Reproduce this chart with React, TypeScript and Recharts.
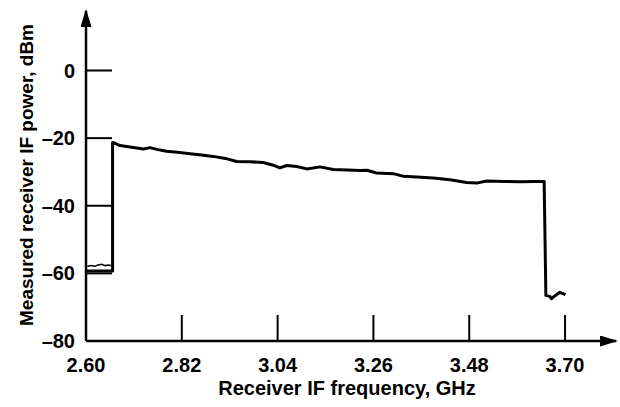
import { FC } from 'react';
import { LineChart, Line, XAxis, YAxis } from 'recharts';

// axis ticks
const freqTicks = [2.6, 2.82, 3.04, 3.26, 3.48, 3.7];
const powerTicks = [-80, -60, -40, -20, 0];

// main trace, GHz / dBm
const traceFreq = [
  2.6, 2.661, 2.661, 2.668, 2.678, 2.701, 2.732, 2.747, 2.765, 2.785, 2.81, 2.839,
  2.865, 2.892, 2.92, 2.946, 2.975, 3.007, 3.03, 3.045, 3.061, 3.084, 3.107, 3.137,
  3.168, 3.2, 3.229, 3.245, 3.267, 3.306, 3.329, 3.36, 3.397, 3.436, 3.474, 3.497,
  3.52, 3.56, 3.597, 3.63, 3.652, 3.656, 3.665, 3.669, 3.677, 3.688, 3.701,
];
const tracePower = [
  -59.3, -59.3, -21.3, -21.6, -22.2, -22.6, -23.2, -22.8, -23.4, -23.9, -24.2, -24.6,
  -25.0, -25.4, -26.0, -26.9, -27.0, -27.2, -28.0, -28.8, -28.1, -28.4, -29.1, -28.5,
  -29.3, -29.4, -29.6, -29.5, -30.3, -30.5, -31.3, -31.5, -31.8, -32.3, -33.1, -33.3,
  -32.7, -32.8, -32.9, -32.8, -32.8, -66.5, -66.8, -67.5, -66.6, -65.6, -66.3,
];

// thin noisy floor below the band edge
const floorFreq = [2.603, 2.612, 2.62, 2.628, 2.636, 2.644, 2.652, 2.66];
const floorPower = [-57.9, -57.7, -57.9, -57.5, -57.3, -57.7, -57.5, -57.8];

const trace = traceFreq.map((f, i) => ({ f, p: tracePower[i] }));
const floor = floorFreq.map((f, i) => ({ f, p: floorPower[i] }));

const FONT = '"Liberation Sans", Arial, sans-serif';
const TICK_LEN = 26;

const FreqTick = (props: any) => {
  const { x, y, payload } = props;
  return (
    <g>
      {payload.value !== freqTicks[0] && (
        <line x1={x} y1={y} x2={x} y2={y - TICK_LEN} stroke="#000" strokeWidth={2} />
      )}
      <text
        x={x}
        y={y + 31}
        textAnchor="middle"
        fontFamily={FONT}
        fontWeight="bold"
        fontSize={20}
        fill="#000"
      >
        {payload.value.toFixed(2)}
      </text>
    </g>
  );
};

const PowerTick = (props: any) => {
  const { x, y, payload } = props;
  const v = payload.value;
  return (
    <g>
      {v !== powerTicks[0] && (
        <line x1={x} y1={y} x2={x + TICK_LEN} y2={y} stroke="#000" strokeWidth={2} />
      )}
      <text
        x={x - 11}
        y={y + 7}
        textAnchor="end"
        fontFamily={FONT}
        fontWeight="bold"
        fontSize={20}
        fill="#000"
      >
        {v === 0 ? '0' : '\u2013' + Math.abs(v)}
      </text>
    </g>
  );
};

const App: FC = () => {
  return (
    <div style={{ position: 'absolute', left: 0, top: 0, background: '#fff' }}>
      <LineChart
        width={620}
        height={407}
        margin={{ top: 11, right: 4, left: 0, bottom: 0 }}
      >
        <defs>
          <marker
            id="arrowHead"
            viewBox="0 0 18 11"
            refX={16}
            refY={5.5}
            markerWidth={18}
            markerHeight={11}
            markerUnits="userSpaceOnUse"
            orient="auto-start-reverse"
          >
            <path d="M0,0 L18,5.5 L0,11 Z" fill="#000" />
          </marker>
        </defs>
        <XAxis
          type="number"
          dataKey="f"
          domain={[2.6, 3.817]}
          ticks={freqTicks}
          interval={0}
          height={66}
          tickSize={0}
          tickMargin={0}
          tickLine={false}
          tick={<FreqTick />}
          axisLine={{ stroke: '#000', strokeWidth: 2.5, markerEnd: 'url(#arrowHead)' }}
          label={{
            value: 'Receiver IF frequency, GHz',
            position: 'insideBottom',
            offset: 12,
            dx: -4,
            style: { fontFamily: FONT, fontWeight: 'bold', fontSize: 20, fill: '#000' },
          }}
        />
        <YAxis
          type="number"
          domain={[-80, 17.6]}
          ticks={powerTicks}
          interval={0}
          width={86}
          tickSize={0}
          tickMargin={0}
          tickLine={false}
          tick={<PowerTick />}
          axisLine={{ stroke: '#000', strokeWidth: 2.5, markerStart: 'url(#arrowHead)' }}
          label={{
            value: 'Measured receiver IF power, dBm',
            angle: -90,
            position: 'insideLeft',
            offset: 26,
            dy: -1,
            style: {
              textAnchor: 'middle',
              fontFamily: FONT,
              fontWeight: 'bold',
              fontSize: 19,
              fill: '#000',
            },
          }}
        />
        <Line
          data={floor}
          dataKey="p"
          stroke="#000"
          strokeWidth={1.5}
          dot={false}
          isAnimationActive={false}
        />
        <Line
          data={trace}
          dataKey="p"
          stroke="#000"
          strokeWidth={3}
          strokeLinejoin="round"
          dot={false}
          isAnimationActive={false}
        />
      </LineChart>
    </div>
  );
};

export default App;
